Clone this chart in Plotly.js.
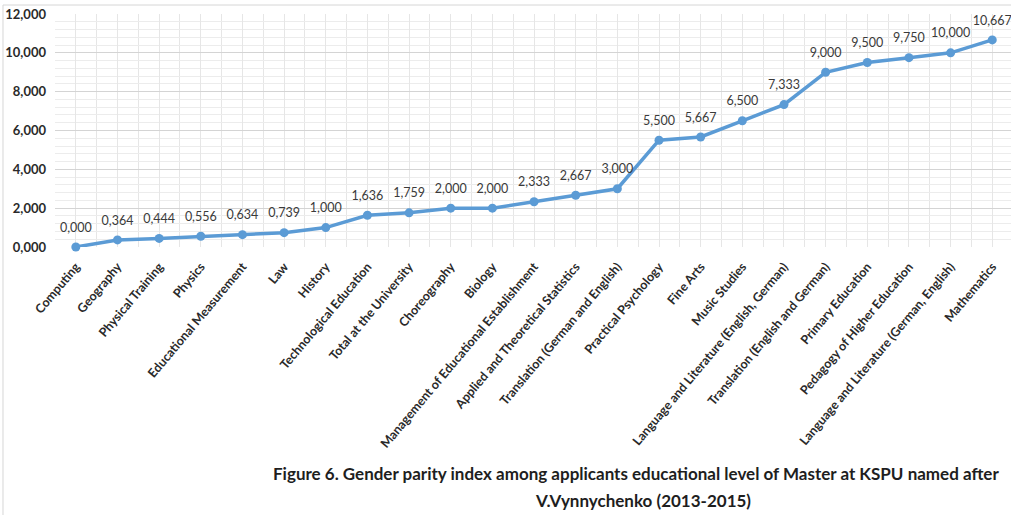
<!DOCTYPE html>
<html>
<head>
<meta charset="utf-8">
<script src="https://cdn.plot.ly/plotly-3.0.1.min.js"></script>
<style>
  html, body { margin: 0; padding: 0; background: #ffffff; }
  #chart { width: 1011px; height: 515px; }
</style>
</head>
<body>
<div id="chart"></div>
<script>
// Master programmes, ordered by gender parity index
const categories = [
  "Computing", "Geography", "Physical Training", "Physics",
  "Educational Measurement", "Law", "History", "Technological Education",
  "Total at the University", "Choreography", "Biology",
  "Management of Educational Establishment", "Applied and Theoretical Statistics",
  "Translation (German and English)", "Practical Psychology", "Fine Arts",
  "Music Studies", "Language and Literature (English, German)",
  "Translation (English and German)", "Primary Education",
  "Pedagogy of Higher Education", "Language and Literature (German, English)",
  "Mathematics"
];

// Gender parity index for each programme (2013-2015)
const parityIndex = [
  0.000, 0.364, 0.444, 0.556, 0.634, 0.739, 1.000, 1.636, 1.759, 2.000, 2.000,
  2.333, 2.667, 3.000, 5.500, 5.667, 6.500, 7.333, 9.000, 9.500, 9.750, 10.000, 10.667
];

// Y axis ticks
const yTicks = [0, 2, 4, 6, 8, 10, 12];

const positions = categories.map((_, i) => i);
const labelFont = "Lato, 'Open Sans', sans-serif";

// point labels use a decimal comma
const pointLabels = parityIndex.map(v => v.toFixed(3).replace('.', ','));

// the line with its markers
const lineTrace = {
  type: 'scatter',
  mode: 'lines+markers',
  x: positions,
  y: parityIndex,
  line: { color: '#5b9bd5', width: 3.5 },
  marker: { color: '#5b9bd5', size: 9 },
  cliponaxis: false,
  hoverinfo: 'x+y'
};

// value labels; the transparent marker sets how far above the point they sit
const labelTrace = {
  type: 'scatter',
  mode: 'markers+text',
  x: positions,
  y: parityIndex,
  text: pointLabels,
  textposition: 'top center',
  textfont: { family: labelFont, size: 12.5, color: '#3a3a3a' },
  marker: { color: 'rgba(0,0,0,0)', size: 18 },
  cliponaxis: false,
  hoverinfo: 'skip'
};

const layout = {
  width: 1011,
  height: 515,
  margin: { l: 55, r: 0, t: 14, b: 268 },
  paper_bgcolor: '#ffffff',
  plot_bgcolor: '#ffffff',
  separators: ', ',
  showlegend: false,
  font: { family: labelFont, color: '#3a3a3a' },
  xaxis: {
    type: 'linear',
    range: [-0.5, 22.45],
    tickvals: positions,
    ticktext: categories,
    tickangle: -50,
    tickfont: { family: labelFont, size: 12.5, color: '#2a2a2a', weight: 'bold' },
    ticklabelstandoff: 9,
    showgrid: true,
    gridcolor: '#e6e6e6',
    gridwidth: 1,
    minor: { dtick: 0.5, tick0: 0.5, showgrid: true, gridcolor: '#e6e6e6', gridwidth: 1 },
    zeroline: false,
    showline: false,
    ticks: '',
    fixedrange: true
  },
  yaxis: {
    range: [0, 12],
    tickvals: yTicks,
    tickformat: '.3f',
    tickfont: { family: labelFont, size: 13, color: '#2a2a2a', weight: 'bold' },
    ticklabelstandoff: 8,
    showgrid: true,
    gridcolor: '#d4d4d4',
    gridwidth: 1,
    minor: { dtick: 0.4, tick0: 0, showgrid: true, gridcolor: '#ececec', gridwidth: 1 },
    zeroline: false,
    showline: false,
    ticks: '',
    fixedrange: true
  },
  shapes: [
    {
      type: 'rect', xref: 'paper', yref: 'paper',
      x0: -0.0544, x1: 1.01, y0: -1.16, y1: 1.0386,
      line: { color: '#d6d6d6', width: 1 },
      layer: 'below'
    }
  ],
  annotations: [
    {
      xref: 'paper', yref: 'paper',
      x: 0.608, y: -0.970,
      xanchor: 'center', yanchor: 'middle',
      showarrow: false,
      text: '<b>Figure 6. Gender parity index among applicants educational level of Master at KSPU named after</b>',
      font: { family: labelFont, size: 17, color: '#1e1e1e' }
    },
    {
      xref: 'paper', yref: 'paper',
      x: 0.615, y: -1.086,
      xanchor: 'center', yanchor: 'middle',
      showarrow: false,
      text: '<b>V.Vynnychenko (2013-2015)</b>',
      font: { family: labelFont, size: 17, color: '#1e1e1e' }
    }
  ]
};

Plotly.newPlot('chart', [lineTrace, labelTrace], layout, { displayModeBar: false, staticPlot: true });
</script>
</body>
</html>
